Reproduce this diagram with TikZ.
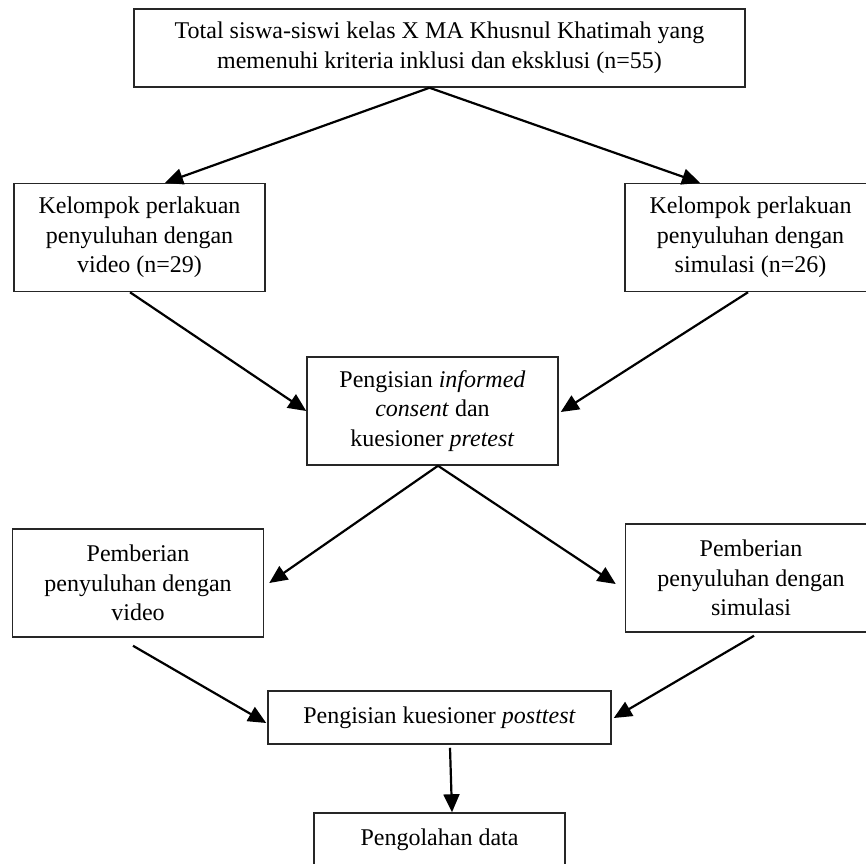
\documentclass[tikz,border=0pt]{standalone}
\usepackage{fontspec}
\setmainfont{Liberation Serif}
\usepackage{tikz}
\usetikzlibrary{arrows.meta,positioning,calc}
\tikzset{
  tahap/.style ={rectangle, draw=black!85, line width=0.75pt, align=center,
                 font=\fontsize{12}{14.8}\selectfont, inner sep=2pt,
                 minimum width=125.5pt, minimum height=54pt},
  tahapS/.style={tahap, minimum height=26.5pt},   % satu baris
  alur/.style  ={-{Triangle[length=9pt,width=8pt]}, line width=1.1pt, draw=black},
}

\begin{document}
\begin{tikzpicture}[x=0.5pt, y=-0.5pt]
  \clip (0,0) rectangle (866,863);
  \fill[white] (0,0) rectangle (866,863);
  \node[tahap, minimum width=305.5pt, minimum height=39pt] (total) at (439.5,48)
    {Total siswa-siswi kelas X MA Khusnul Khatimah yang\\memenuhi kriteria inklusi dan eksklusi (n=55)};
  \node[tahap] (kvid) at (139.5,237.5) {Kelompok perlakuan\\penyuluhan dengan\\video (n=29)};
  \node[tahap] (ksim) at (750.5,237.5) {Kelompok perlakuan\\penyuluhan dengan\\simulasi (n=26)};
  \node[tahap] (pre)  at (432.5,411)   {Pengisian \textit{informed}\\\textit{consent} dan\\kuesioner \textit{pretest}};
  \node[tahap] (pvid) at (138,583)     {Pemberian\\penyuluhan dengan\\video};
  \node[tahap] (psim) at (751,578)     {Pemberian\\penyuluhan dengan\\simulasi};
  \node[tahapS, minimum width=171.5pt] (post) at (439.5,717.5) {Pengisian kuesioner \textit{posttest}};
  \node[tahapS] (olah) at (439.5,839.5) {Pengolahan data};
  \draw[alur] ($(total.south)+(-10,0)$) -- ($(kvid.north)+(25.5,0)$);
  \draw[alur] ($(total.south)+(-10,0)$) -- ($(ksim.north)+(-50.5,0)$);
  \draw[alur] ($(kvid.south)+(-9.5,0)$) -- (pre.west);
  \draw[alur] ($(ksim.south)+(-2.5,0)$) -- ($(pre.east)+(2,1)$);
  \draw[alur] ($(pre.south)+(5.5,0)$)   -- ($(pvid.east)+(5,0)$);
  \draw[alur] ($(pre.south)+(5.5,0)$)   -- ($(psim.west)+(-9,6)$);
  \draw[alur] ($(pvid.south)+(-5,8)$)   -- ($(post.west)+(-1,5.5)$);
  \draw[alur] ($(psim.south)+(3,3)$)    -- ($(post.east)+(2,0.5)$);
  \draw[alur] ($(post.south)+(10.5,3)$) -- ($(olah.north)+(12.5,0)$);
\end{tikzpicture}
\end{document}
